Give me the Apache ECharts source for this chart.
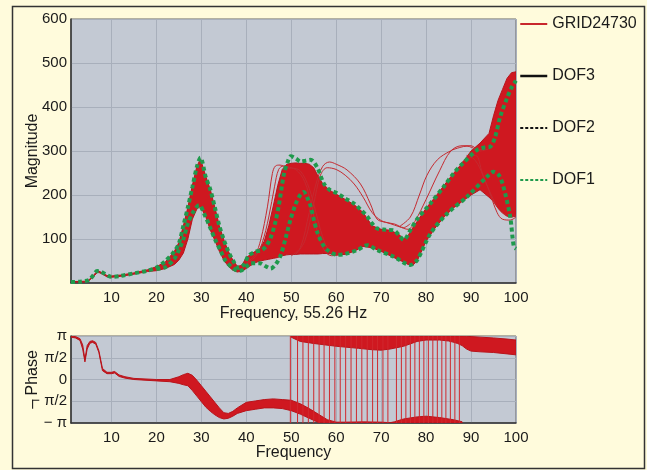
<!DOCTYPE html>
<html>
<head>
<meta charset="utf-8">
<script src="https://cdn.jsdelivr.net/npm/echarts@6/dist/echarts.min.js"></script>
<style>
  html, body { margin: 0; padding: 0; background: #fffbdc; }
  #main { width: 647px; height: 470px; }
</style>
</head>
<body>
<div id="main"></div>
<script>
// magnitude band (red cloud of GRID24730 curves): lower / upper edge
var magF  = [1, 4, 5, 6, 7, 8, 9, 10, 12, 15, 18, 20, 22, 24, 25, 26, 27, 28, 29, 29.8, 31, 32, 33, 34, 35, 36, 37, 38, 39, 40, 41, 42, 43, 44, 45, 46, 47, 48, 49, 50, 51, 52, 53, 54, 55, 56, 57, 58, 59, 60, 62, 64, 66, 68, 70, 72, 74, 75, 76, 77, 78, 80, 82, 84, 86, 88, 90, 92, 94, 95, 96, 97, 98, 99, 100];
var magLo = [2, 2, 5, 15, 25, 20, 14, 13, 15, 20, 26, 28, 33, 42, 52, 68, 100, 145, 168, 174, 150, 120, 97, 72, 52, 38, 29, 25, 27, 33, 40, 46, 50, 52, 54, 56, 58, 62, 64, 65, 65, 66, 66, 66, 66, 66, 67, 67, 66, 64, 65, 72, 83, 80, 72, 62, 52, 48, 42, 40, 50, 95, 125, 150, 170, 185, 200, 212, 195, 185, 170, 160, 152, 150, 152];
var magHi = [3, 4, 7, 18, 28, 23, 17, 16, 18, 23, 30, 37, 48, 72, 92, 130, 172, 222, 265, 282, 242, 212, 172, 130, 98, 72, 52, 38, 40, 58, 65, 72, 78, 95, 130, 175, 222, 258, 270, 272, 273, 272, 272, 270, 262, 242, 226, 216, 208, 202, 190, 178, 160, 130, 122, 120, 110, 100, 108, 125, 140, 170, 195, 222, 248, 272, 300, 318, 340, 380, 415, 440, 465, 478, 480];

// single red curves that stray outside the band
var outliers = [
  [[40,45],[42,65],[43.2,98],[44.7,173],[45.8,249],[46.5,266],[47.5,268],[49,262],[51,258],[53,230],[54.5,175],[56,110],[57.5,72],[59,62],[61,64]],
  [[40,42],[42,60],[43.5,90],[45,150],[46.3,220],[47.2,258],[48.3,266],[50,262],[52,255],[54,215],[55.5,160],[57,105],[58.5,72],[60,64]],
  [[50,62],[52,80],[54,160],[55.5,225],[57,265],[58.5,275],[60,270],[62.4,257],[65.4,225],[67.6,180],[69.1,145],[71,138],[73,134],[75,126],[76.5,135]],
  [[51,65],[53,95],[55,180],[56.5,245],[58,262],[60,258],[62,245],[64,225],[66,195],[68,160],[70,142],[72,135],[74,128],[76,122],[77.5,140],[80,190],[83,255],[85.5,300],[88,312],[90,312],[92,300],[94,305]],
  [[74,128],[76.5,150],[78.5,200],[80.2,245],[82.5,280],[85.4,300],[87.5,308],[89.1,311],[91,305],[93,303]],
  [[88,275],[90,285],[91.5,270],[93,235],[94.5,200],[96,170],[97.5,155],[99,150],[100,155]],
  [[89,290],[91,290],[92.5,250],[94,210],[95.8,160],[97,145],[98.7,143],[100,150]]
];

// DOF1 dotted curves
var dof1UpF = [1, 3, 5, 6, 6.8, 7.6, 8.7, 10, 12, 15, 18, 20, 22, 24, 25, 26, 27, 28, 29, 29.8, 31, 32, 33, 34, 35, 36, 37, 38.3, 39.5, 40.5, 42, 43.5, 44.5, 45.5, 46.5, 47.3, 48.4, 49.2, 49.9, 51, 52.1, 53.2, 54.3, 55.8, 57.2, 58.5, 60.2, 62, 63.9, 65.5, 66.9, 68, 69.1, 71, 72.8, 74, 75, 76.5, 78, 81, 84, 86.1, 88, 91.3, 93, 94.3, 95.3, 96.5, 98, 99.1, 100];
var dof1UpM = [2, 3, 7, 18, 27, 26, 20, 14, 16, 22, 28, 35, 50, 72, 90, 130, 172, 218, 264, 285, 240, 212, 172, 130, 98, 72, 52, 34, 42, 62, 71, 75, 85, 105, 140, 180, 249, 275, 288, 283, 276, 278, 280, 262, 227, 212, 204, 192, 181, 166, 151, 135, 124, 121, 120, 108, 98, 120, 145, 181, 220, 249, 270, 302, 308, 310, 330, 378, 420, 446, 460];
var dof1LoF = [20, 22, 24, 25, 26, 27, 28, 29.5, 30.9, 32, 33.1, 34.2, 35.3, 36.5, 37.6, 38.7, 40, 41, 43, 44.3, 45.4, 46.5, 47.6, 48.7, 49.8, 51, 52, 52.8, 53.5, 54.3, 55, 55.8, 57, 58, 60.2, 62, 64.7, 66.9, 69.1, 72.8, 76.5, 78, 81, 84.7, 89.1, 93.6, 95, 96.2, 97.2, 98.7, 99.5, 100];
var dof1LoM = [32, 36, 55, 75, 100, 135, 158, 177, 151, 125, 98, 75, 52, 38, 30, 28, 37, 45, 45, 38, 33, 42, 62, 100, 143, 180, 200, 207, 195, 175, 145, 115, 88, 75, 64, 66, 75, 86, 75, 60, 41, 52, 113, 158, 196, 242, 253, 245, 219, 151, 83, 78];

// phase: main band (1..88) and upper band (50..100), radians
var phAF  = [1, 2, 3, 3.6, 4.1, 4.6, 5.2, 5.8, 6.5, 7.2, 8, 9, 10, 10.7, 11.7, 13, 15, 20, 23, 25, 26, 27, 28, 29, 30, 31, 32, 33, 34, 35, 36, 37, 38, 40, 42, 44, 46, 48, 50, 52, 54, 56, 58, 60, 62, 66, 70, 72, 73, 75, 78, 80, 83, 86, 88];
var phALo = [3.06, 3.0, 2.82, 2.2, 1.27, 2.2, 2.62, 2.68, 2.56, 1.95, 0.64, 0.42, 0.42, 0.47, 0.22, 0.1, 0.0, -0.1, -0.16, -0.28, -0.38, -0.45, -0.8, -1.2, -1.6, -2.0, -2.3, -2.55, -2.75, -2.85, -2.8, -2.65, -2.45, -2.25, -2.15, -2.05, -2.05, -2.1, -2.25, -2.5, -2.8, -3.1, -3.14, -3.14, -3.14, -3.14, -3.14, -3.14, -3.14, -3.14, -3.14, -3.12, -3.14, -3.14, -3.14];
var phAHi = [3.14, 3.1, 2.95, 2.5, 1.45, 2.45, 2.75, 2.8, 2.68, 2.08, 0.8, 0.52, 0.52, 0.58, 0.33, 0.2, 0.08, 0.0, 0.0, 0.2, 0.35, 0.45, 0.3, -0.05, -0.45, -0.85, -1.25, -1.65, -2.05, -2.4, -2.45, -2.3, -2.05, -1.65, -1.55, -1.45, -1.4, -1.45, -1.5, -1.75, -2.1, -2.5, -2.9, -3.08, -3.08, -3.06, -3.08, -3.12, -3.05, -2.85, -2.7, -2.65, -2.75, -2.9, -3.05];
var phBF  = [50, 52, 55, 60, 65, 68, 70, 72, 75, 78, 80, 83, 85, 86, 87, 88, 89, 90, 92, 95, 98, 100];
var phBLo = [3.05, 2.75, 2.6, 2.4, 2.25, 2.15, 2.12, 2.2, 2.4, 2.75, 2.85, 2.85, 2.78, 2.7, 2.6, 2.45, 2.2, 2.05, 2.0, 1.95, 1.85, 1.78];
var phBHi = [3.14, 3.14, 3.14, 3.14, 3.14, 3.14, 3.14, 3.14, 3.14, 3.14, 3.14, 3.14, 3.14, 3.14, 3.14, 3.14, 3.12, 3.1, 3.06, 3.0, 2.92, 2.85];
// frequencies where curves wrap from -pi to pi
var wrapF = [49.8, 51.4, 52.6, 53.8, 55, 56.2, 57.3, 58.5, 59.7, 60.9, 62.1, 63.3, 64.5, 65.7, 66.9, 68.1, 69.2, 70.4, 71.5, 73.4, 74.5, 75.5, 76.5, 77.5, 78.5, 79.5, 80.5, 81.5, 82.5, 83.5, 84.4, 85.4, 86.4, 87.4];

var freqTicks = [10, 20, 30, 40, 50, 60, 70, 80, 90, 100];
var phaseTickLabels = ['\u2212 \u03c0', '\u2212 \u03c0/2', '0', '\u03c0/2', '\u03c0'];

var FONT = '"Liberation Sans", Arial, sans-serif';
var RED = '#cf1820';
var GREEN = '#1f9a4c';

function pairs(xs, ys) {
    return xs.map(function (x, i) { return [x, ys[i]]; });
}

// filled band between lo and hi, drawn as one polygon in data coords
function band(xi, F, lo, hi) {
    return {
        type: 'custom', xAxisIndex: xi, yAxisIndex: xi, silent: true, clip: true, z: 2,
        data: F.map(function (f, i) { return [f, lo[i], hi[i]]; }),
        encode: { x: 0, y: [1, 2] },
        renderItem: function (params, api) {
            if (params.dataIndex !== 0) return null;
            var pts = [];
            for (var i = 0; i < F.length; i++) pts.push(api.coord([F[i], hi[i]]));
            for (var j = F.length - 1; j >= 0; j--) pts.push(api.coord([F[j], lo[j]]));
            return {
                type: 'polygon', shape: { points: pts },
                style: { fill: RED, stroke: '#b8141b', lineWidth: 1 }
            };
        }
    };
}

var chart = echarts.init(document.getElementById('main'));

function freqAxis(gridIndex, name, gap) {
    return {
        type: 'value', gridIndex: gridIndex, min: 1, max: 100,
        name: name, nameLocation: 'middle', nameGap: gap, nameMoveOverlap: false,
        nameTextStyle: { fontFamily: FONT, fontSize: 16, color: '#1a1a1a' },
        axisLine: { show: true, onZero: false, lineStyle: { color: '#333', width: 1.5 } },
        axisTick: { show: false, customValues: freqTicks },
        axisLabel: { customValues: freqTicks, margin: 7, fontFamily: FONT, fontSize: 15, color: '#1a1a1a' },
        splitLine: { show: true, lineStyle: { color: '#a8afbb', width: 1 } }
    };
}

var series = [];
series.push(band(0, magF, magLo, magHi));
outliers.forEach(function (c) {
    series.push({
        name: 'GRID24730', type: 'line', xAxisIndex: 0, yAxisIndex: 0, data: c,
        symbol: 'none', smooth: 0.35, itemStyle: { color: '#c52a30' },
        lineStyle: { color: '#c52a30', width: 1 }, z: 3
    });
});
series.push({ name: 'DOF3', type: 'line', xAxisIndex: 0, yAxisIndex: 0, data: [], symbol: 'none', itemStyle: { color: '#111' }, lineStyle: { color: '#111', width: 2 } });
series.push({ name: 'DOF2', type: 'line', xAxisIndex: 0, yAxisIndex: 0, data: [], symbol: 'none', itemStyle: { color: '#111' }, lineStyle: { color: '#111', width: 2, type: [3, 2] } });
[[dof1UpF, dof1UpM], [dof1LoF, dof1LoM]].forEach(function (c) {
    series.push({
        name: 'DOF1', type: 'line', xAxisIndex: 0, yAxisIndex: 0, data: pairs(c[0], c[1]),
        symbol: 'none', smooth: 0.3, itemStyle: { color: GREEN },
        lineStyle: { color: GREEN, width: 4, type: [4, 3] }, z: 5
    });
});

// phase
series.push(band(1, phAF, phALo, phAHi));
series.push(band(1, phBF, phBLo, phBHi));
var wrapData = [];
wrapF.forEach(function (f) {
    wrapData.push([f, -Math.PI], [f, Math.PI], [f, '-']);
});
series.push({
    name: 'wrap', type: 'line', xAxisIndex: 1, yAxisIndex: 1, data: wrapData,
    symbol: 'none', connectNulls: false, lineStyle: { color: '#d0282e', width: 1 }, z: 3
});

var hideSym = { opacity: 0 };
var option = {
    animation: false,
    backgroundColor: '#fffbdc',
    graphic: [{
        type: 'rect', shape: { x: 12.5, y: 6.5, width: 632, height: 462 },
        style: { fill: 'none', stroke: '#333', lineWidth: 1.5 }, z: 100
    }],
    legend: {
        orient: 'vertical', left: 514, top: 11,
        itemWidth: 27, itemHeight: 14, itemGap: 36,
        textStyle: { fontFamily: FONT, fontSize: 16, color: '#1a1a1a' },
        data: [
            { name: 'GRID24730', itemStyle: hideSym, lineStyle: { color: '#c8262c', width: 2, type: 'solid' } },
            { name: 'DOF3', itemStyle: hideSym, lineStyle: { color: '#111', width: 2.5, type: 'solid' } },
            { name: 'DOF2', itemStyle: hideSym, lineStyle: { color: '#111', width: 2, type: [3, 2] } },
            { name: 'DOF1', itemStyle: hideSym, lineStyle: { color: GREEN, width: 2, type: [3, 2] } }
        ]
    },
    grid: [
        { left: 71, top: 19, width: 445, height: 264, show: true, backgroundColor: '#c3c9d3', borderColor: '#666', borderWidth: 1 },
        { left: 71, top: 336, width: 445, height: 87, show: true, backgroundColor: '#c3c9d3', borderColor: '#666', borderWidth: 1 }
    ],
    xAxis: [
        freqAxis(0, 'Frequency, 55.26 Hz', 23),
        freqAxis(1, 'Frequency', 22)
    ],
    yAxis: [
        {
            type: 'value', gridIndex: 0, min: 0, max: 600, interval: 100,
            name: 'Magnitude', nameLocation: 'middle', nameGap: 30, nameMoveOverlap: false,
            nameTextStyle: { fontFamily: FONT, fontSize: 16, color: '#1a1a1a' },
            axisLine: { show: true, lineStyle: { color: '#333', width: 1.5 } },
            axisTick: { show: false },
            axisLabel: {
                margin: 4, fontFamily: FONT, fontSize: 15, color: '#1a1a1a',
                formatter: function (v) { return v === 0 ? '' : String(v); }
            },
            splitLine: { show: true, lineStyle: { color: '#a8afbb', width: 1 } }
        },
        {
            type: 'value', gridIndex: 1, min: -Math.PI, max: Math.PI, interval: Math.PI / 2,
            name: '\u2013 Phase', nameLocation: 'middle', nameGap: 30, nameMoveOverlap: false,
            nameTextStyle: { fontFamily: FONT, fontSize: 16, color: '#1a1a1a' },
            axisLine: { show: true, lineStyle: { color: '#333', width: 1.5 } },
            axisTick: { show: false },
            axisLabel: {
                margin: 4, fontFamily: FONT, fontSize: 15, color: '#1a1a1a',
                formatter: function (v) { return phaseTickLabels[Math.round((v + Math.PI) / (Math.PI / 2))]; }
            },
            splitLine: { show: true, lineStyle: { color: '#a8afbb', width: 1 } }
        }
    ],
    series: series
};

chart.setOption(option);
</script>
</body>
</html>
